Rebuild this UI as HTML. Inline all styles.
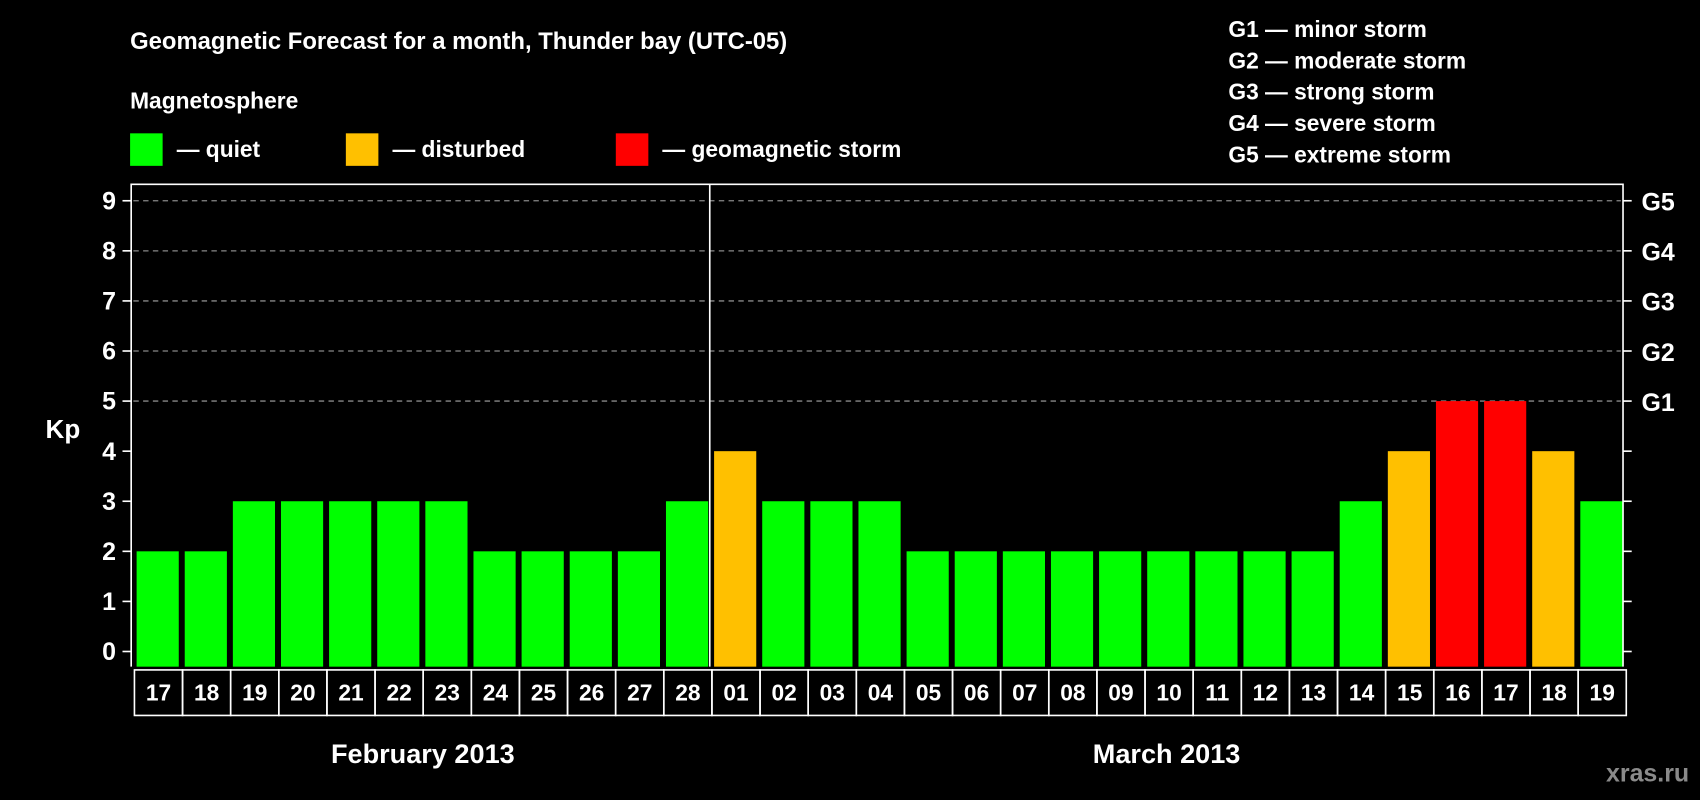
<!DOCTYPE html>
<html><head><meta charset="utf-8"><style>
html,body{margin:0;padding:0;background:#000;}
svg{display:block;font-family:"Liberation Sans",sans-serif;font-weight:bold;}
</style></head><body>
<svg id="chart" width="1700" height="800" viewBox="0 0 1568 738" preserveAspectRatio="none" xmlns="http://www.w3.org/2000/svg">
<rect x="0" y="0" width="1568" height="738" fill="#000"/>
<text x="120" y="45" fill="#fff" font-size="22">Geomagnetic Forecast for a month, Thunder bay (UTC-05)</text>
<text x="120" y="100" fill="#fff" font-size="21">Magnetosphere</text>
<g><rect x="120" y="123" width="30" height="30" fill="#00ff00"/><text x="163" y="145" fill="#fff" font-size="21">— quiet</text></g>
<g><rect x="319" y="123" width="30" height="30" fill="#ffc000"/><text x="362" y="145" fill="#fff" font-size="21">— disturbed</text></g>
<g><rect x="568" y="123" width="30" height="30" fill="#ff0000"/><text x="611" y="145" fill="#fff" font-size="21">— geomagnetic storm</text></g>
<g fill="#fff" font-size="21">
<text x="1133" y="34">G1 — minor storm</text>
<text x="1133" y="63">G2 — moderate storm</text>
<text x="1133" y="92">G3 — strong storm</text>
<text x="1133" y="121">G4 — severe storm</text>
<text x="1133" y="150">G5 — extreme storm</text>
</g>
<text x="58" y="404" fill="#fff" font-size="24" text-anchor="middle">Kp</text>
<g id="plot"></g>
<text x="390" y="704" fill="#fff" font-size="25" text-anchor="middle">February 2013</text>
<text x="1076" y="704" fill="#fff" font-size="25" text-anchor="middle">March 2013</text>
<text x="1558" y="721" fill="#8a8a8a" font-size="23" text-anchor="end">xras.ru</text>
</svg>
<script>
const days = ["17","18","19","20","21","22","23","24","25","26","27","28","01","02","03","04","05","06","07","08","09","10","11","12","13","14","15","16","17","18","19"];
const kpValues = [2,2,3,3,3,3,3,2,2,2,2,3,4,3,3,3,2,2,2,2,2,2,2,2,2,3,4,5,5,4,3];
const yTicks = [0,1,2,3,4,5,6,7,8,9];
const gLabels = ["G1","G2","G3","G4","G5"];
const gLevels = [5,6,7,8,9];
const monthBreakIndex = 12;

const NS = "http://www.w3.org/2000/svg";
const plot = document.getElementById('plot');
const L = 121, R = 1497, TOP = 170, BOT = 615;
const slot = (R - L) / days.length;
const xPos = i => L + i * slot;
const yPos = v => 601 - v * 46.2;
const colorFor = v => v >= 5 ? "#ff0000" : (v >= 4 ? "#ffc000" : "#00ff00");
function mk(tag, attrs){const e=document.createElementNS(NS,tag);for(const k in attrs)e.setAttribute(k,attrs[k]);plot.appendChild(e);return e;}

gLevels.forEach(v=>{
  const e = mk('line',{x1:L+2,x2:R-2,y1:yPos(v),y2:yPos(v),stroke:"#888","stroke-width":1.2,"stroke-dasharray":"5 4"});
  
  
});
kpValues.forEach((v,i)=>{
  const e = mk('rect',{x:xPos(i)+5,y:yPos(v),width:slot-5.5,height:yPos(0)+14-yPos(v),fill:colorFor(v)});
  
  
});
const frame = mk('path',{d:`M${L} ${BOT}V${TOP}H${R}V${BOT}`,stroke:"#fff","stroke-width":1.5,fill:"none"});


const sep = mk('line',{x1:xPos(monthBreakIndex)+1,x2:xPos(monthBreakIndex)+1,y1:TOP,y2:BOT,stroke:"#fff","stroke-width":1.5});


yTicks.forEach(v=>{
  const t1 = mk('line',{x1:L-8,x2:L,y1:yPos(v),y2:yPos(v),stroke:"#fff","stroke-width":1.5});
  
  
  const t2 = mk('line',{x1:R,x2:R+8,y1:yPos(v),y2:yPos(v),stroke:"#fff","stroke-width":1.5});
  
  
  const tx = mk('text',{x:L-14,y:yPos(v)+8,fill:"#fff","font-size":23,"text-anchor":"end"});
  tx.textContent = v;
  
  
});
gLabels.forEach((g,i)=>{
  const tx = mk('text',{x:R+17,y:yPos(gLevels[i])+9,fill:"#fff","font-size":23});
  tx.textContent = g;
  
  
});
days.forEach((d,i)=>{
  const c = mk('rect',{x:xPos(i)+3,y:618,width:slot,height:42,fill:"none",stroke:"#fff","stroke-width":1.5});
  
  
  const tx = mk('text',{x:xPos(i)+3+slot/2,y:646,fill:"#fff","font-size":21,"text-anchor":"middle"});
  tx.textContent = d;
  
  
});
</script>
</body></html>
